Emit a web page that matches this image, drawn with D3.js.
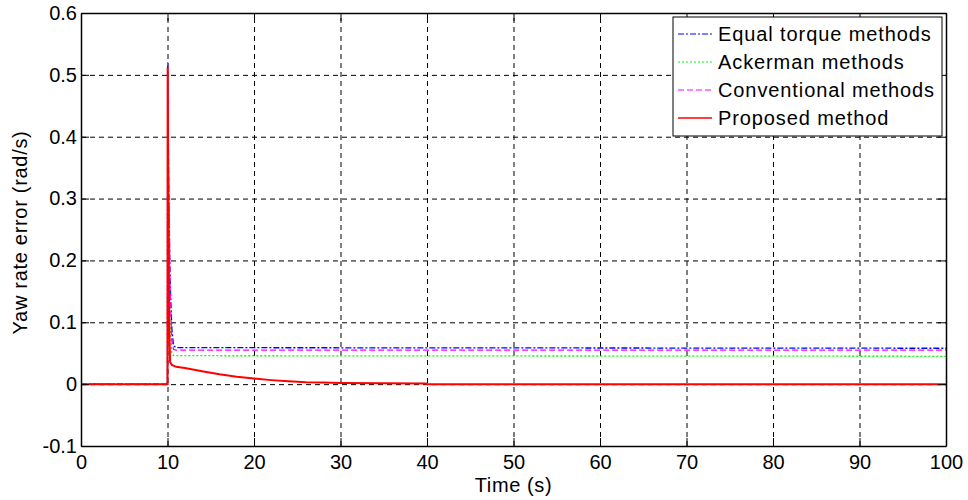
<!DOCTYPE html>
<html>
<head>
<meta charset="utf-8">
<script src="https://cdn.jsdelivr.net/npm/d3@7"></script>
<style>
  body { margin: 0; background: #fff; }
  svg { display: block; font-family: "Liberation Sans", Arial, sans-serif; }
</style>
</head>
<body>
<div id="chart"></div>
<script>
// tick values and labels
var xTicks = [0, 10, 20, 30, 40, 50, 60, 70, 80, 90, 100];
var xTickLabels = ["0", "10", "20", "30", "40", "50", "60", "70", "80", "90", "100"];
var yTicks = [-0.1, 0, 0.1, 0.2, 0.3, 0.4, 0.5, 0.6];
var yTickLabels = ["-0.1", "0", "0.1", "0.2", "0.3", "0.4", "0.5", "0.6"];

// series names (legend order)
var seriesNames = ["Equal torque methods", "Ackerman methods", "Conventional methods", "Proposed method"];

// time (s) and yaw rate error (rad/s)
var equalTime = [0, 10, 10.02, 10.1, 10.3, 10.5, 10.7, 11, 100];
var equalValue = [0, 0, 0.52, 0.35, 0.17, 0.09, 0.062, 0.059, 0.058];

var ackermanTime = [0, 10, 10.02, 10.1, 10.3, 10.5, 10.7, 100];
var ackermanValue = [0, 0, 0.5, 0.3, 0.1, 0.05, 0.046, 0.045];

var conventionalTime = [0, 10, 10.02, 10.1, 10.3, 10.5, 10.7, 11, 100];
var conventionalValue = [0, 0, 0.52, 0.39, 0.15, 0.07, 0.056, 0.055, 0.055];

var proposedTime = [0, 10, 10.02, 10.1, 10.2, 10.3, 10.5, 11, 12, 14, 16, 18, 20, 22, 24, 26, 28, 30, 35, 39.9, 40, 100];
var proposedValue = [0, 0, 0.512, 0.3, 0.1, 0.036, 0.031, 0.028, 0.026, 0.021, 0.016, 0.012, 0.009, 0.0065, 0.0045, 0.003, 0.0025, 0.002, 0.0015, 0.001, 0, 0];

function init() {
  var W = 968, H = 500;
  var margin = { top: 13, right: 22, bottom: 54, left: 81 },
    width = W - margin.left - margin.right,
    height = H - margin.top - margin.bottom;

  var svg = d3.select("#chart").append("svg")
    .attr("width", W)
    .attr("height", H);

  var g = svg.append("g")
    .attr("transform", "translate(" + margin.left + "," + margin.top + ")");

  var x = d3.scaleLinear().domain([0, 100]).range([0, width]);
  var y = d3.scaleLinear().domain([-0.1, 0.6]).range([height, 0]);

  // dashed grid
  g.append("g")
    .attr("class", "grid")
    .attr("transform", "translate(0," + height + ")")
    .call(d3.axisBottom(x).tickValues(xTicks).tickSize(-height).tickFormat(""));
  g.append("g")
    .attr("class", "grid")
    .call(d3.axisLeft(y).tickValues(yTicks).tickSize(-width).tickFormat(""));
  g.selectAll(".grid .domain").remove();
  g.selectAll(".grid line")
    .attr("stroke", "#000")
    .attr("stroke-width", 1)
    .attr("stroke-dasharray", "5,4");

  // the series
  var series = [
    { name: seriesNames[0], t: equalTime, v: equalValue, color: "#0000ff", dash: "6,2,2,2", w: 1.3 },
    { name: seriesNames[1], t: ackermanTime, v: ackermanValue, color: "#00ff00", dash: "2,2", w: 1.3 },
    { name: seriesNames[2], t: conventionalTime, v: conventionalValue, color: "#ff00ff", dash: "6,3", w: 1.3 },
    { name: seriesNames[3], t: proposedTime, v: proposedValue, color: "#ff0000", dash: null, w: 2 }
  ];

  var line = d3.line()
    .x(function (d) { return x(d[0]); })
    .y(function (d) { return y(d[1]); });

  series.forEach(function (s) {
    var pts = s.t.map(function (t, i) { return [t, s.v[i]]; });
    g.append("path")
      .datum(pts)
      .attr("d", line)
      .attr("fill", "none")
      .attr("stroke", s.color)
      .attr("stroke-width", s.w)
      .attr("stroke-dasharray", s.dash);
  });

  // axes with inward ticks on all four sides
  var fs = "20px";
  var xAxis = g.append("g")
    .attr("transform", "translate(0," + height + ")")
    .call(d3.axisBottom(x).tickValues(xTicks)
      .tickFormat(function (d, i) { return xTickLabels[i]; })
      .tickSizeInner(-8).tickSizeOuter(0).tickPadding(6));
  xAxis.selectAll("text").attr("y", 9).attr("dy", "0.71em").style("font-size", fs).attr("fill", "#000");

  var yAxis = g.append("g")
    .call(d3.axisLeft(y).tickValues(yTicks)
      .tickFormat(function (d, i) { return yTickLabels[i]; })
      .tickSizeInner(-8).tickSizeOuter(0));
  yAxis.selectAll("text").attr("x", -4).style("font-size", fs).attr("fill", "#000");

  g.append("g")
    .call(d3.axisTop(x).tickValues(xTicks).tickFormat("").tickSizeInner(-8).tickSizeOuter(0));
  g.append("g")
    .attr("transform", "translate(" + width + ",0)")
    .call(d3.axisRight(y).tickValues(yTicks).tickFormat("").tickSizeInner(-8).tickSizeOuter(0));

  g.selectAll(".tick line").filter(function () { return !this.parentNode.parentNode.classList.contains("grid"); })
    .attr("stroke", "#000");
  g.selectAll(".domain").attr("stroke", "#000").attr("stroke-width", 1.5);

  // axis labels
  svg.append("text")
    .attr("x", margin.left + width / 2)
    .attr("y", 492)
    .attr("text-anchor", "middle")
    .style("font-size", fs)
    .style("letter-spacing", "0.6px")
    .text("Time (s)");

  svg.append("text")
    .attr("transform", "translate(27," + (margin.top + height / 2 + 3) + ") rotate(-90)")
    .attr("text-anchor", "middle")
    .style("font-size", fs)
    .style("letter-spacing", "0.7px")
    .text("Yaw rate error (rad/s)");

  // legend
  var lg = svg.append("g").attr("transform", "translate(673,17)");
  lg.append("rect")
    .attr("width", 269)
    .attr("height", 119)
    .attr("fill", "#fff")
    .attr("stroke", "#000")
    .attr("stroke-width", 1);

  series.forEach(function (s, i) {
    var cy = 17 + i * 28;
    lg.append("line")
      .attr("x1", 5).attr("x2", 39)
      .attr("y1", cy).attr("y2", cy)
      .attr("stroke", s.color)
      .attr("stroke-width", s.w === 2 ? 1.5 : 1)
      .attr("stroke-dasharray", s.dash);
    lg.append("text")
      .attr("x", 45)
      .attr("y", cy + 7)
      .style("font-size", fs)
      .style("letter-spacing", "0.9px")
      .text(s.name);
  });
}
window.onload = init;
</script>
</body>
</html>
